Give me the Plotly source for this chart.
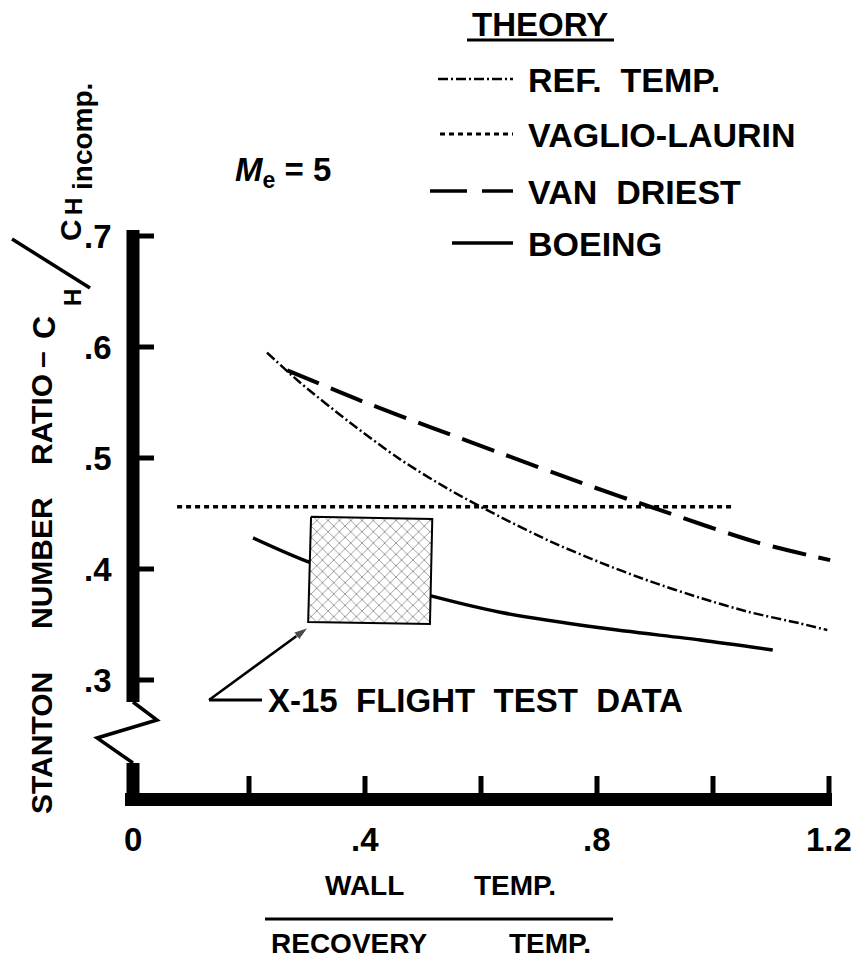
import plotly.graph_objects as go

# ---------------- data ----------------
REF_TEMP_X = [0.231, 0.288, 0.374, 0.460, 0.547, 0.633, 0.719, 0.805, 0.891,
              0.978, 1.064, 1.150, 1.197]
REF_TEMP_Y = [0.595, 0.568, 0.532, 0.499, 0.471, 0.447, 0.425, 0.406, 0.389,
              0.374, 0.361, 0.351, 0.345]

VAGLIO_X = [0.076, 1.034]
VAGLIO_Y = [0.456, 0.456]

VAN_DRIEST_X = [0.266, 0.403, 0.517, 0.633, 0.771, 0.909, 1.076, 1.202]
VAN_DRIEST_Y = [0.579, 0.5495, 0.527, 0.5045, 0.478, 0.453, 0.424, 0.408]

BOEING_X = [0.207, 0.305, 0.403, 0.512, 0.633, 0.805, 0.978, 1.103]
BOEING_Y = [0.428, 0.406, 0.392, 0.376, 0.361, 0.347, 0.336, 0.327]

# X-15 flight test data region (corners)
X15_X = [0.307, 0.516, 0.512, 0.302, 0.307]
X15_Y = [0.447, 0.445, 0.3505, 0.3523, 0.447]

X_TICKS = [0.2, 0.4, 0.6, 0.8, 1.0, 1.2]
X_LABEL_VALS = [0.0, 0.4, 0.8, 1.2]
X_LABELS = ["0", ".4", ".8", "1.2"]
Y_TICKS = [0.3, 0.4, 0.5, 0.6, 0.7]
Y_LABELS = [".3", ".4", ".5", ".6", ".7"]

LEGEND_NAMES = ["REF.  TEMP.", "VAGLIO-LAURIN", "VAN  DRIEST", "BOEING"]

# ---------------- layout helpers ----------------
W, H = 860, 965
X0PX, XSCALE = 133.0, 580.0      # pixel of x=0, pixels per unit
Y03PX, YSCALE = 680.0, 1110.0    # pixel of y=0.3, pixels per unit


def dx(p):
    return (p - X0PX) / XSCALE


def dy(p):
    return 0.3 + (Y03PX - p) / YSCALE


FONT = "Liberation Sans, Arial, sans-serif"
BLACK = "black"

fig = go.Figure()

# curves
fig.add_trace(go.Scatter(x=REF_TEMP_X, y=REF_TEMP_Y, mode="lines",
                         line=dict(color=BLACK, width=2.5, dash="10px,3px,2px,3px",
                                   shape="spline", smoothing=0.8),
                         name="REF. TEMP."))
fig.add_trace(go.Scatter(x=VAGLIO_X, y=VAGLIO_Y, mode="lines",
                         line=dict(color=BLACK, width=3.5, dash="5px,4px"),
                         name="VAGLIO-LAURIN"))
fig.add_trace(go.Scatter(x=VAN_DRIEST_X, y=VAN_DRIEST_Y, mode="lines",
                         line=dict(color=BLACK, width=4, dash="34px,13px",
                                   shape="spline", smoothing=0.8),
                         name="VAN DRIEST"))
fig.add_trace(go.Scatter(x=BOEING_X, y=BOEING_Y, mode="lines",
                         line=dict(color=BLACK, width=3.5, shape="spline", smoothing=0.8),
                         name="BOEING"))
# flight-test region
fig.add_trace(go.Scatter(x=X15_X, y=X15_Y, mode="lines", fill="toself",
                         fillcolor="white",
                         fillpattern=dict(shape="x", fgcolor=BLACK, bgcolor="white",
                                          size=8, solidity=0.18),
                         line=dict(color=BLACK, width=2),
                         name="X-15 FLIGHT TEST DATA"))
# arrow pointing at the flight-test region
ARROW_X = [dx(209), dx(313)]
ARROW_Y = [dy(700), dy(624)]
fig.add_trace(go.Scatter(x=ARROW_X, y=ARROW_Y, mode="lines+markers",
                         line=dict(color=BLACK, width=2.5),
                         marker=dict(symbol="arrow", size=[0, 15], angleref="previous",
                                     color=BLACK, standoff=6),
                         hoverinfo="skip"))

shapes = []
# axes (thick), with break in y axis
AX_W = 13
x_axis_y = dy(799.5)
shapes.append(dict(type="line", xref="x", yref="y", x0=dx(125), x1=dx(832),
                   y0=x_axis_y, y1=x_axis_y, line=dict(color=BLACK, width=AX_W)))
shapes.append(dict(type="line", xref="x", yref="y", x0=0, x1=0,
                   y0=dy(230), y1=dy(702), line=dict(color=BLACK, width=AX_W)))
shapes.append(dict(type="line", xref="x", yref="y", x0=0, x1=0,
                   y0=dy(763), y1=dy(806), line=dict(color=BLACK, width=AX_W)))
# break zigzag
zig = [(133, 702), (157, 720), (97, 738), (133, 763)]
path = "M " + " L ".join(f"{dx(a)},{dy(b)}" for a, b in zig)
shapes.append(dict(type="path", xref="x", yref="y", path=path,
                   line=dict(color=BLACK, width=3.5)))
# ticks
for v in Y_TICKS:
    shapes.append(dict(type="line", xref="x", yref="y", x0=0, x1=dx(154),
                       y0=v, y1=v, line=dict(color=BLACK, width=5)))
for v in X_TICKS:
    shapes.append(dict(type="line", xref="x", yref="y", x0=v, x1=v,
                       y0=x_axis_y, y1=dy(776), line=dict(color=BLACK, width=5)))

# legend samples
leg_y = [79, 134, 191, 243]
shapes.append(dict(type="line", xref="x", yref="y", x0=dx(438), x1=dx(513),
                   y0=dy(leg_y[0]), y1=dy(leg_y[0]),
                   line=dict(color=BLACK, width=2.5, dash="10px,3px,2px,3px")))
shapes.append(dict(type="line", xref="x", yref="y", x0=dx(440), x1=dx(513),
                   y0=dy(leg_y[1]), y1=dy(leg_y[1]),
                   line=dict(color=BLACK, width=3, dash="5px,4px")))
shapes.append(dict(type="line", xref="x", yref="y", x0=dx(430), x1=dx(513),
                   y0=dy(leg_y[2]), y1=dy(leg_y[2]),
                   line=dict(color=BLACK, width=3.5, dash="37px,15px")))
shapes.append(dict(type="line", xref="x", yref="y", x0=dx(452), x1=dx(513),
                   y0=dy(leg_y[3]), y1=dy(leg_y[3]),
                   line=dict(color=BLACK, width=3.5)))
# THEORY underline
shapes.append(dict(type="line", xref="x", yref="y", x0=dx(467), x1=dx(614),
                   y0=dy(40), y1=dy(40), line=dict(color=BLACK, width=3)))
# x title fraction bar
shapes.append(dict(type="line", xref="x", yref="y", x0=dx(265), x1=dx(613),
                   y0=dy(919), y1=dy(919), line=dict(color=BLACK, width=3)))
# y title slash
shapes.append(dict(type="line", xref="x", yref="y", x0=dx(12), x1=dx(90),
                   y0=dy(239), y1=dy(288), line=dict(color=BLACK, width=3.5)))
# X-15 leader line
shapes.append(dict(type="line", xref="x", yref="y", x0=dx(209), x1=dx(262),
                   y0=dy(700), y1=dy(700), line=dict(color=BLACK, width=3)))

ann = []


def text(t, xp, yp, size, xanchor="center", yanchor="middle", angle=0):
    ann.append(dict(text=t, x=dx(xp), y=dy(yp), xref="x", yref="y",
                    showarrow=False, xanchor=xanchor, yanchor=yanchor,
                    textangle=angle,
                    font=dict(family=FONT, size=size, color=BLACK, weight="bold")))


# tick labels
for v, s in zip(X_LABEL_VALS, X_LABELS):
    ann.append(dict(text=s, x=v, y=dy(839), xref="x", yref="y", showarrow=False,
                    xanchor="center", yanchor="middle",
                    font=dict(family=FONT, size=33, color=BLACK, weight="bold")))
for v, s in zip(Y_TICKS, Y_LABELS):
    ann.append(dict(text=s, x=dx(114), y=v, xref="x", yref="y", showarrow=False,
                    xanchor="right", yanchor="middle",
                    font=dict(family=FONT, size=33, color=BLACK, weight="bold")))

# legend
text("THEORY", 540, 24, 33)
for name, yp in zip(LEGEND_NAMES, leg_y):
    text(name, 526, yp + 1, 34, xanchor="left")

# Mach number
text("<i>M</i><sub>e</sub> = 5", 233, 172, 33, xanchor="left")

# y title pieces
text("STANTON", 41, 743, 30, angle=-90)
text("NUMBER", 41, 563, 30, angle=-90)
text("RATIO", 41, 420, 30, angle=-90)
text("–", 41, 360, 30, angle=-90)
text("C", 44, 328, 32, angle=-90)
text("H", 72, 298, 24, angle=-90)
text("C", 70, 230, 30, angle=-90)
text("H", 73, 207, 24, angle=-90)
text("incomp.", 82, 137, 28, angle=-90)

# x title
text("WALL", 364, 885, 28)
text("TEMP.", 515, 885, 28)
text("RECOVERY", 349, 943, 28)
text("TEMP.", 550, 943, 28)

# flight test label
text("X-15  FLIGHT  TEST  DATA", 266, 700, 33, xanchor="left")

fig.update_layout(
    width=W, height=H, autosize=False,
    margin=dict(l=0, r=0, t=0, b=0, pad=0),
    paper_bgcolor="white", plot_bgcolor="white",
    showlegend=False,
    xaxis=dict(range=[dx(0), dx(W)], visible=False, fixedrange=True),
    yaxis=dict(range=[dy(H), dy(0)], visible=False, fixedrange=True),
    shapes=shapes, annotations=ann,
)

fig.write_html("out.html", config={"displayModeBar": False},
               post_script="document.body.style.margin='0';document.body.style.overflow='hidden';")
